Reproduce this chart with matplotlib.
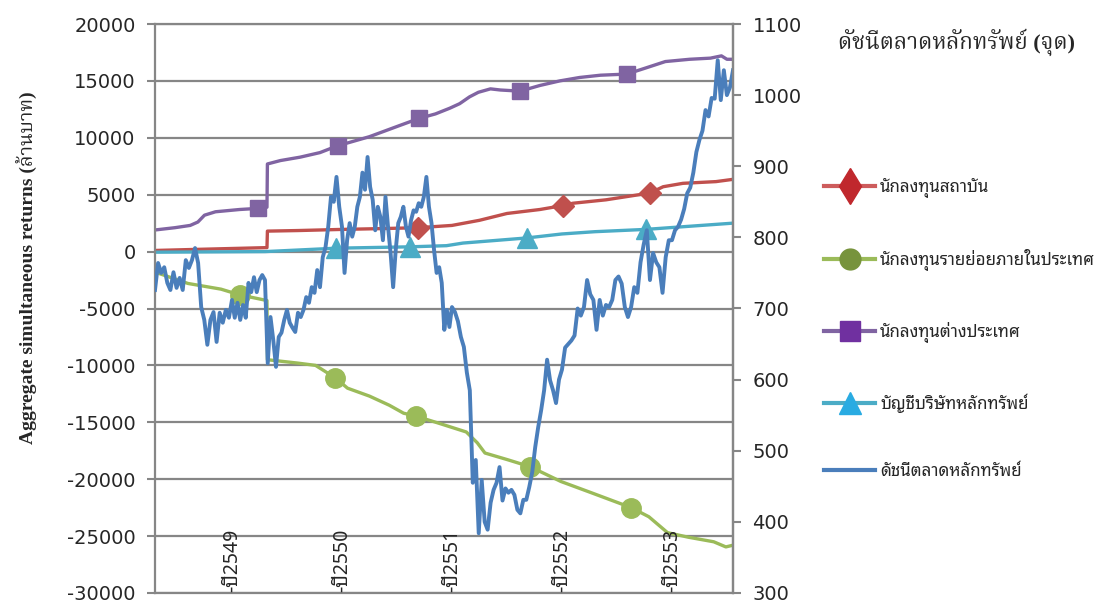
import numpy as np
import matplotlib
matplotlib.use("Agg")
import matplotlib.pyplot as plt
from matplotlib.lines import Line2D
from matplotlib.transforms import blended_transform_factory

plt.rcParams["axes.unicode_minus"] = False

# --- data (Thai years, SET index in points, flows in million baht) ---
years = [2549, 2550, 2551, 2552, 2553]
year_labels = ["-ปี2549", "-ปี2550", "-ปี2551", "-ปี2552", "-ปี2553"]
t_start, t_end = 2548.30, 2553.555

# SET index, one list per year (evenly spaced trading days inside a year)
set_2548 = [726, 764, 750, 758, 736, 726, 751, 729, 743, 726, 768, 757, 768,
            785, 764, 702, 684, 649, 684, 695, 653, 694, 680, 698, 687]
set_2549 = [712, 687, 708, 684, 705, 687, 736, 723, 744, 723, 740, 747, 740,
            623, 688, 656, 618, 660, 666, 684, 698, 680, 673, 667, 694, 688,
            698, 716, 708, 730, 722, 754, 730, 772, 786, 815, 857, 850, 885, 843]
set_2550 = [815, 750, 796, 820, 801, 815, 843, 857, 891, 867, 913, 871, 853,
            810, 843, 829, 796, 857, 815, 778, 730, 782, 820, 829, 843, 815,
            801, 824, 838, 836, 848, 843, 857, 885, 843, 820, 782, 750, 758,
            736, 670, 698, 674]
set_2551 = [702, 695, 682, 660, 646, 610, 585, 455, 487, 384, 459, 400, 389,
            427, 445, 455, 477, 430, 447, 441, 445, 438, 417, 412, 431, 431,
            449, 470, 505, 533, 557, 585, 628, 599, 585, 567, 600]
set_2552 = [614, 645, 650, 655, 662, 700, 690, 702, 740, 720, 712, 670, 712,
            690, 705, 702, 712, 740, 745, 735, 702, 688, 702, 730, 722, 765,
            790, 810, 740, 778, 765, 758, 722, 772, 796]
set_2553 = [796, 810, 815, 825, 840, 862, 870, 891, 920, 937, 950, 979, 970,
            996, 995, 1049, 993, 1035, 1000, 1011, 1035]

# cumulative flows (million baht)
inst_t = [2548.30, 2548.70, 2549.318, 2549.322, 2549.60, 2550.00, 2550.40,
          2550.69, 2551.00, 2551.25, 2551.50, 2551.80, 2552.01, 2552.10,
          2552.40, 2552.80, 2552.92, 2553.10, 2553.40, 2553.555]
inst_v = [100, 200, 350, 1800, 1850, 1950, 2030, 2100, 2300, 2750, 3350, 3700,
          4050, 4250, 4550, 5150, 5700, 6000, 6150, 6350]
inst_marks = [2550.69, 2552.01, 2552.80]

retail_t = [2548.30, 2548.60, 2548.90, 2549.07, 2549.318, 2549.322, 2549.60,
            2549.76, 2549.94, 2550.05, 2550.25, 2550.43, 2550.56, 2550.67,
            2550.87, 2551.13, 2551.23, 2551.30, 2551.51, 2551.71, 2551.99,
            2552.27, 2552.63, 2552.79, 2552.96, 2553.15, 2553.38, 2553.49,
            2553.555]
retail_v = [-1800, -2800, -3300, -3800, -4300, -9500, -9800, -10000, -11100,
            -12000, -12700, -13500, -14200, -14450, -15050, -15850, -16800,
            -17700, -18300, -18900, -20200, -21200, -22500, -23300, -24700,
            -25100, -25500, -25950, -25800]
retail_marks = [2549.07, 2549.94, 2550.67, 2551.71, 2552.63]

foreign_t = [2548.30, 2548.48, 2548.62, 2548.69, 2548.75, 2548.85, 2549.07,
             2549.24, 2549.30, 2549.318, 2549.322, 2549.44, 2549.62, 2549.80,
             2549.96, 2550.07, 2550.25, 2550.39, 2550.53, 2550.70, 2550.85,
             2550.98, 2551.07, 2551.16, 2551.24, 2551.35, 2551.44, 2551.62,
             2551.80, 2551.98, 2552.16, 2552.35, 2552.59, 2552.75, 2552.94,
             2553.16, 2553.35, 2553.45, 2553.50, 2553.555]
foreign_v = [1900, 2100, 2300, 2600, 3200, 3500, 3700, 3800, 3900, 3900, 7700,
             8000, 8300, 8700, 9300, 9600, 10100, 10600, 11100, 11700, 12100,
             12600, 13000, 13600, 14000, 14300, 14200, 14100, 14600, 15000,
             15300, 15500, 15600, 16100, 16700, 16900, 17000, 17200, 16900,
             16900]
foreign_marks = [2549.24, 2549.96, 2550.70, 2551.62, 2552.59]

broker_t = [2548.30, 2549.30, 2549.95, 2550.62, 2550.95, 2551.10, 2551.68,
            2552.00, 2552.30, 2552.76, 2553.555]
broker_v = [-50, 0, 300, 420, 520, 750, 1200, 1550, 1750, 1950, 2500]
broker_marks = [2549.95, 2550.62, 2551.68, 2552.76]

labels = ["นักลงทุนสถาบัน", "นักลงทุนรายย่อยภายในประเทศ", "นักลงทุนต่างประเทศ",
          "บัญชีบริษัทหลักทรัพย์", "ดัชนีตลาดหลักทรัพย์"]

# time axis for the index, built year by year
segs = [set_2548, set_2549, set_2550, set_2551, set_2552, set_2553]
bounds = [t_start] + years + [t_end]
set_t, set_v = [], []
for i, s in enumerate(segs):
    last = i == len(segs) - 1
    set_t.extend(np.linspace(bounds[i], bounds[i + 1], len(s), endpoint=last))
    set_v.extend(s)

# --- style ---
c_red, c_green, c_purple, c_teal, c_blue = "#C0504D", "#9BBB59", "#8064A2", "#4BACC6", "#4A7EBB"
grid_c = "#868686"
txt_c = "#262626"
thai_sans = ["Noto Sans", "Noto Sans Thai Looped"]
narrow = ["Liberation Sans Narrow", "Noto Sans Thai Looped"]
serif = ["Liberation Serif", "Noto Serif Thai"]

fig = plt.figure(figsize=(11, 6.03), dpi=100)
ax = fig.add_axes([155 / 1100, 10 / 603, 578 / 1100, 569 / 603])
ax2 = ax.twinx()

series = [
    (inst_t, inst_v, inst_marks, c_red, "D", 11),
    (retail_t, retail_v, retail_marks, c_green, "o", 14),
    (foreign_t, foreign_v, foreign_marks, c_purple, "s", 12),
    (broker_t, broker_v, broker_marks, c_teal, "^", 14),
]
for t, v, marks, c, m, ms in series:
    ax.plot(t, v, color=c, lw=2.4, solid_joinstyle="round")
    ax.plot(marks, np.interp(marks, t, v), ls="none", marker=m, ms=ms,
            color=c, mec=c)

ax2.plot(set_t, set_v, color=c_blue, lw=2.8, solid_joinstyle="round")

ax.set_xlim(t_start, t_end)
ax.set_ylim(-30000, 20000)
ax.set_yticks(np.arange(-30000, 20001, 5000))
ax2.set_ylim(300, 1100)
ax2.set_yticks(np.arange(300, 1101, 100))
ax.set_xticks([])

ax.grid(axis="y", color=grid_c, lw=1.6)
ax.set_axisbelow(True)
for a in (ax, ax2):
    for side in a.spines:
        a.spines[side].set_color(grid_c)
        a.spines[side].set_linewidth(1.6)
ax2.spines["left"].set_visible(False)
ax2.spines["top"].set_visible(False)
ax2.spines["bottom"].set_visible(False)

ax.tick_params(axis="y", direction="out", length=6, width=1.5, color=grid_c,
               labelsize=14, labelcolor=txt_c, pad=8)
ax2.tick_params(axis="y", direction="out", length=6, width=1.5, color=grid_c,
                labelsize=14, labelcolor=txt_c, pad=8)

# year labels drawn inside the plot, along the bottom
tr = blended_transform_factory(ax.transData, ax.transAxes)
for yr, lab in zip(years, year_labels):
    ax.text(yr, 0.002, lab, transform=tr, rotation=90, ha="center",
            va="bottom", fontsize=14, family=narrow, color=txt_c)

fig.text(28 / 1100, 1 - 268 / 603, "Aggregate simultaneous returns (ล้านบาท)",
         rotation=90, ha="center", va="center", fontsize=14, weight="bold",
         family=serif, color=txt_c)
fig.text(838 / 1100, 1 - 42 / 603, "ดัชนีตลาดหลักทรัพย์ (จุด)", ha="left",
         va="center", fontsize=16, weight="bold", family=serif, color=txt_c)

handles = [
    Line2D([], [], color="#CD5C5C", lw=3, marker="d", ms=18, mfc="#C0282D", mec="#C0282D"),
    Line2D([], [], color=c_green, lw=3, marker="o", ms=15, mfc="#77933C", mec="#77933C"),
    Line2D([], [], color=c_purple, lw=3, marker="s", ms=14, mfc="#7030A0", mec="#7030A0"),
    Line2D([], [], color=c_teal, lw=3, marker="^", ms=16, mfc="#29ABE2", mec="#29ABE2"),
    Line2D([], [], color=c_blue, lw=3),
]
fig.legend(handles, labels, loc="upper left",
           bbox_to_anchor=(809 / 1100, 1 - 163 / 603), frameon=False,
           prop={"family": thai_sans, "size": 12.2}, labelcolor=txt_c,
           labelspacing=3.0, handlelength=3.0, handletextpad=0.3)

fig.savefig("out.png", dpi=100)
